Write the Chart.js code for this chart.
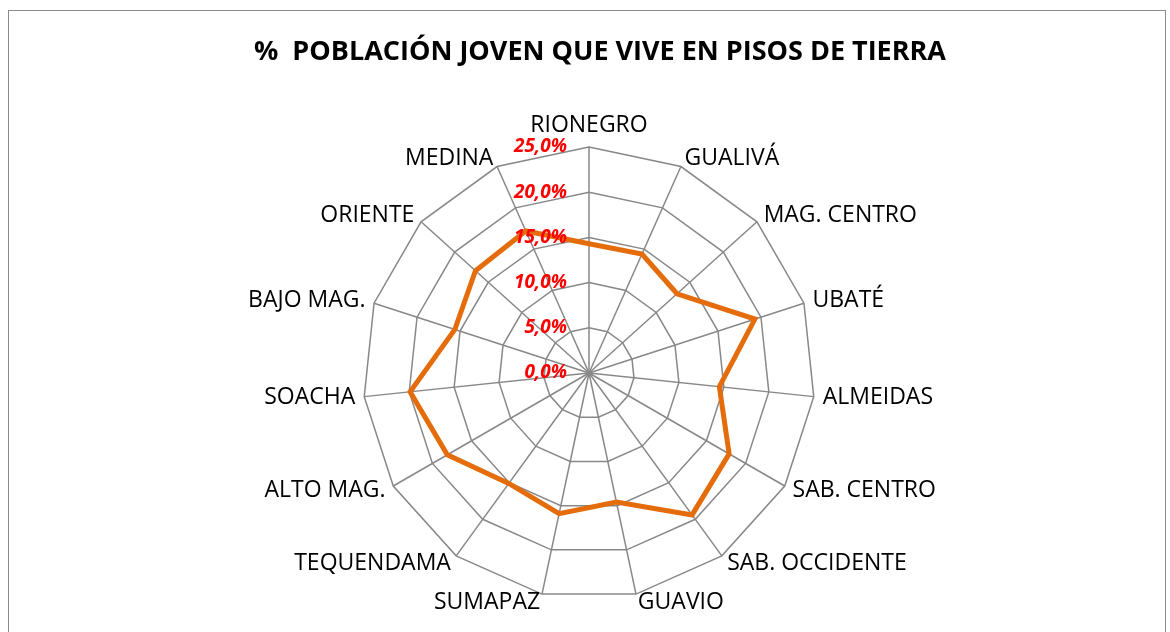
<!DOCTYPE html>
<html>
<head>
<meta charset="utf-8">
<script src="https://cdn.jsdelivr.net/npm/chart.js@4"></script>
<style>
  body { margin: 0; background: #fff; }
  #frame { position: absolute; left: 8px; top: 10px; width: 1156px; height: 640px; border: 1px solid #8a8a8a; }
  #wrap { position: absolute; left: 0; top: 0; width: 1170px; height: 632px; }
</style>
</head>
<body>
<div id="frame"></div>
<div id="wrap"><canvas id="chart"></canvas></div>
<script>
const categories = ["RIONEGRO", "GUALIVÁ", "MAG. CENTRO", "UBATÉ", "ALMEIDAS", "SAB. CENTRO",
  "SAB. OCCIDENTE", "GUAVIO", "SUMAPAZ", "TEQUENDAMA", "ALTO MAG.", "SOACHA", "BAJO MAG.",
  "ORIENTE", "MEDINA"];
const values = [14.3, 14.4, 13.1, 19.3, 14.5, 17.9, 19.4, 14.6, 15.9, 15.1, 18.1, 19.9, 15.6, 16.9, 17.2];
const tickValues = [0, 5, 10, 15, 20, 25];
const chartTitle = "%  POBLACIÓN JOVEN QUE VIVE EN PISOS DE TIERRA";

const fmt = v => v.toFixed(1).replace(".", ",") + "%";

// title, and category labels centred on their spoke like Excel does
const textLayer = {
  id: "textLayer",
  afterDraw(chart) {
    const r = chart.scales.r;
    const ctx = chart.ctx;
    ctx.save();
    ctx.fillStyle = "#000";
    ctx.font = "bold 27px 'Open Sans'";
    ctx.textAlign = "center";
    ctx.textBaseline = "middle";
    ctx.fillText(chartTitle, 600, 52);

    ctx.font = "23px 'Open Sans'";
    categories.forEach((label, i) => {
      const p = r.getPointPosition(i, r.drawingArea + 9);
      let y = p.y;
      if (p.x > r.xCenter + 1) ctx.textAlign = "left";
      else if (p.x < r.xCenter - 1) ctx.textAlign = "right";
      else { ctx.textAlign = "center"; y -= 13; }
      ctx.fillText(label, p.x, y);
    });
    ctx.restore();
  }
};

// red tick labels drawn to the left of the top spoke, over the data line
const tickLabels = {
  id: "tickLabels",
  afterDatasetsDraw(chart) {
    const r = chart.scales.r;
    const ctx = chart.ctx;
    ctx.save();
    ctx.font = "italic bold 19px 'Open Sans'";
    ctx.fillStyle = "#ff0000";
    ctx.textAlign = "right";
    ctx.textBaseline = "middle";
    tickValues.forEach(v => {
      const d = r.getDistanceFromCenterForValue(v);
      ctx.fillText(fmt(v), r.xCenter - 22, r.yCenter - d);
    });
    ctx.restore();
  }
};

new Chart(document.getElementById("chart"), {
  type: "radar",
  data: {
    labels: categories,
    datasets: [{
      label: "% población joven",
      data: values,
      borderColor: "#e46c0a",
      borderWidth: 5,
      fill: false,
      pointRadius: 0,
      tension: 0
    }]
  },
  options: {
    responsive: true,
    maintainAspectRatio: false,
    animation: false,
    layout: { padding: { left: 8, right: 0, top: 147, bottom: 33 } },
    plugins: {
      legend: { display: false },
      tooltip: { enabled: false },
      title: { display: false }
    },
    scales: {
      r: {
        min: 0,
        max: 25,
        ticks: { stepSize: 5, display: false },
        grid: { color: "#888888", lineWidth: 1.5 },
        angleLines: { color: "#888888", lineWidth: 1.5 },
        pointLabels: { display: false }
      }
    }
  },
  plugins: [tickLabels, textLayer]
});
</script>
</body>
</html>
